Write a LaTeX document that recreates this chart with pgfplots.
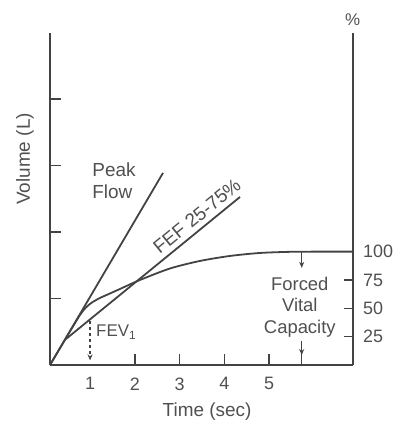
\documentclass[border=0pt]{standalone}
\usepackage{pgfplots}
\pgfplotsset{compat=1.18}
\usepackage{fontspec}
\setmainfont{Liberation Sans}
\usetikzlibrary{arrows.meta}
\definecolor{ink}{HTML}{434343}
\definecolor{txt}{HTML}{505050}
\begin{document}
\begin{tikzpicture}
\pgfplotsset{
  base/.style={
    scale only axis, width=302.7bp, height=332bp,
    xmin=0.105, xmax=6.869,
    at={(0,0)}, anchor=south west,
    tick align=inside,
    major tick length=10bp,
    every tick/.style={ink, line width=1.5bp},
    axis line style={ink, line width=1.9bp, -},
    tick label style={txt, font=\fontsize{18}{21}\selectfont},
    /pgf/number format/assume math mode=true,
    clip=false,
  }
}
\begin{axis}[base, ymin=0, ymax=4.99,
  axis x line*=bottom, axis y line*=left,
  xtick={2,3,4,5}, extra x ticks={1},
  extra x tick style={major tick length=0pt},
  xticklabel style={yshift=-9bp},
  ytick={1,2,3,4,5}, yticklabels={},
  major tick length=11bp,
]
% volume-time curve
\addplot[ink, line width=1.8bp, smooth, tension=0.45] coordinates {
 (0.105,0) (0.328,0.253) (0.552,0.505) (0.775,0.752) (0.909,0.865)
 (1.044,0.940) (1.222,1.008) (1.446,1.075) (1.669,1.143) (2.116,1.278)
 (2.787,1.451) (3.457,1.564) (4.127,1.639) (4.798,1.684) (5.468,1.701)
 (6.138,1.704) (6.869,1.704)};
% peak flow tangent
\addplot[ink, line width=1.8bp] coordinates {(0.105,0) (2.630,2.887)};
% FEF 25-75% chord
\addplot[ink, line width=1.8bp] coordinates {(0.463,0.391) (4.351,2.526)};
% FEV1 marker
\addplot[ink, line width=1.3bp, dash pattern=on 3bp off 3bp,
  -{Stealth[length=6bp,width=5bp]}] coordinates {(1,0.66) (1,0.07)};
% FVC arrows
\addplot[ink, line width=1.3bp, -{Stealth[length=6bp,width=5bp]}]
  coordinates {(5.73,1.70) (5.73,1.46)};
\addplot[ink, line width=1.3bp, -{Stealth[length=6bp,width=5bp]}]
  coordinates {(5.73,0.36) (5.73,0.15)};
\addplot[ink, line width=1.3bp] coordinates {(5.73,0.16) (5.73,0)};

\node[txt, font=\fontsize{19}{22}\selectfont, align=left] at (axis cs:1.535,2.767) {Peak\\Flow};
\node[txt, font=\fontsize{19}{22}\selectfont, rotate=39.2, inner sep=0pt] at (axis cs:3.39,2.24) {FEF 25-75\%};
\node[txt, font=\fontsize{17}{20}\selectfont, anchor=west, inner sep=0pt] at (axis cs:1.133,0.496) {FEV\textsubscript{1}};
\node[txt, font=\fontsize{18.5}{21.5}\selectfont, align=center] at (axis cs:5.687,0.872) {Forced\\Vital\\Capacity};
\node[txt, font=\fontsize{19}{22}\selectfont, rotate=90] at (axis cs:-0.454,3.098) {Volume (L)};
\node[txt, font=\fontsize{19}{22}\selectfont] at (axis cs:3.614,-0.707) {Time (sec)};
\node[txt, font=\fontsize{17}{20}\selectfont] at (axis cs:6.869,5.188) {\%};
\end{axis}
\begin{axis}[base, ymin=0, ymax=293,
  axis y line*=right, axis x line=none,
  xtick=\empty, ytick={25,50,75,100},
  major tick length=9bp,
  yticklabel style={anchor=west, xshift=7bp},
]
\end{axis}
\pgfresetboundingbox
\path[use as bounding box] (-50bp,-59bp) rectangle (349bp,365bp);
\end{tikzpicture}
\end{document}
